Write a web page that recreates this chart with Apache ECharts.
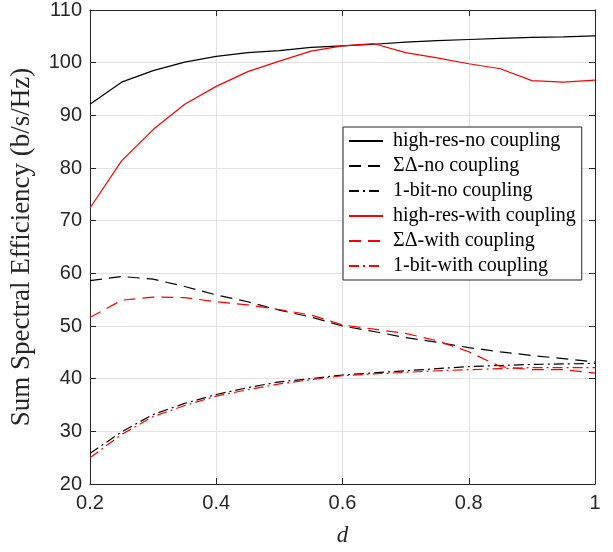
<!DOCTYPE html>
<html>
<head>
<meta charset="utf-8">
<script src="https://cdn.jsdelivr.net/npm/echarts@6/dist/echarts.min.js"></script>
<style>html,body{margin:0;padding:0;background:#fff}#c{width:613px;height:552px}</style>
</head>
<body>
<div id="c"></div>
<script>
var dValues = [0.2,0.25,0.3,0.35,0.4,0.45,0.5,0.55,0.6,0.65,0.7,0.75,0.8,0.85,0.9,0.95,1.0];
var hiResNo   = [92.1,96.3,98.5,100.1,101.2,101.9,102.3,102.9,103.2,103.5,103.9,104.2,104.4,104.6,104.8,104.9,105.1];
var sdNo      = [58.6,59.4,58.9,57.5,55.9,54.6,53.0,51.7,50.0,48.95,47.8,46.9,45.9,45.1,44.4,43.8,43.2];
var oneBitNo  = [25.8,29.9,33.2,35.3,37.0,38.3,39.4,40.0,40.7,41.1,41.5,41.9,42.3,42.5,42.7,42.8,42.9];
var hiResWith = [72.4,81.35,87.3,92.1,95.5,98.3,100.3,102.2,103.2,103.6,101.9,100.9,99.8,98.85,96.6,96.3,96.7];
var sdWith    = [51.6,54.9,55.5,55.4,54.6,54.0,53.1,52.1,50.2,49.4,48.6,47.2,45.1,42.3,41.7,41.7,41.05];
var oneBitWith= [25.0,29.4,32.8,34.9,36.7,37.9,39.0,39.8,40.55,40.9,41.2,41.5,41.7,41.9,42.1,42.1,42.1];
var seriesNames = ['high-res-no coupling','ΣΔ-no coupling','1-bit-no coupling','high-res-with coupling','ΣΔ-with coupling','1-bit-with coupling'];
var xTicks = [0.2,0.4,0.6,0.8,1];
var yTicks = [20,30,40,50,60,70,80,90,100,110];

function pairs(arr){ return dValues.map(function(d,i){ return [d, arr[i]]; }); }
var dashStyle = [12,7];
var dashDot = [10,4,2,4];
var specs = [
  [hiResNo,'#000000','solid'],
  [sdNo,'#000000',dashStyle],
  [oneBitNo,'#000000',dashDot],
  [hiResWith,'#ff0000','solid'],
  [sdWith,'#ff0000',dashStyle],
  [oneBitWith,'#ff0000',dashDot]
];
var series = specs.map(function(s,i){
  return {
    name: seriesNames[i], type:'line', data: pairs(s[0]), symbol:'none', showSymbol:false,
    xAxisIndex:0, yAxisIndex:0,
    lineStyle:{color:s[1], width:1.2, type:s[2]}, itemStyle:{color:s[1]}, animation:false
  };
});
var axisCol = '#262626';
var gridCol = '#e3e3e3';
var option = {
  animation:false,
  backgroundColor:'#fff',
  grid:{left:84, right:18, top:5, bottom:60, containLabel:false},
  legend:{
    orient:'vertical', left:343, top:127,
    backgroundColor:'#fff', borderColor:axisCol, borderWidth:1, borderRadius:0,
    padding:[4,6,4,5], itemGap:5, itemWidth:34, itemHeight:14,
    itemStyle:{color:'transparent', borderColor:'transparent', borderWidth:0, opacity:0},
    textStyle:{fontFamily:'Liberation Serif, DejaVu Serif, serif', fontSize:20, color:'#000', lineHeight:18.4, padding:[0,0,0,5]},
    data: seriesNames
  },
  xAxis:[{
    type:'value', min:0.2, max:1, interval:0.2,
    name:'d', nameLocation:'middle', nameGap:40,
    nameTextStyle:{fontFamily:'Liberation Serif, serif', fontStyle:'italic', fontSize:23, color:axisCol},
    axisLine:{show:true, lineStyle:{color:axisCol, width:1}},
    axisTick:{show:true, inside:true, length:6, lineStyle:{color:axisCol}},
    axisLabel:{fontFamily:'Liberation Sans, Arial, sans-serif', fontSize:20, color:axisCol, margin:9,
      formatter:function(v){ return String(+v.toFixed(1)); }},
    splitLine:{show:true, lineStyle:{color:gridCol, width:1}}
  },{
    type:'value', min:0.2, max:1, interval:0.2, position:'top',
    axisLine:{show:true, lineStyle:{color:axisCol, width:1}},
    axisTick:{show:true, inside:true, length:6, lineStyle:{color:axisCol}},
    axisLabel:{show:false}, splitLine:{show:false}
  }],
  yAxis:[{
    type:'value', min:20, max:110, interval:10,
    name:'Sum Spectral Efficiency (b/s/Hz)', nameLocation:'middle', nameGap:55,
    nameTextStyle:{fontFamily:'Liberation Serif, serif', fontSize:27, color:axisCol},
    axisLine:{show:true, lineStyle:{color:axisCol, width:1}},
    axisTick:{show:true, inside:true, length:6, lineStyle:{color:axisCol}},
    axisLabel:{fontFamily:'Liberation Sans, Arial, sans-serif', fontSize:20, color:axisCol, margin:8},
    splitLine:{show:true, lineStyle:{color:gridCol, width:1}}
  },{
    type:'value', min:20, max:110, interval:10, position:'right',
    axisLine:{show:true, lineStyle:{color:axisCol, width:1}},
    axisTick:{show:true, inside:true, length:6, lineStyle:{color:axisCol}},
    axisLabel:{show:false}, splitLine:{show:false}
  }],
  series: series
};
var chart = echarts.init(document.getElementById('c'), null, {renderer:'canvas'});
chart.setOption(option);
</script>
</body>
</html>
